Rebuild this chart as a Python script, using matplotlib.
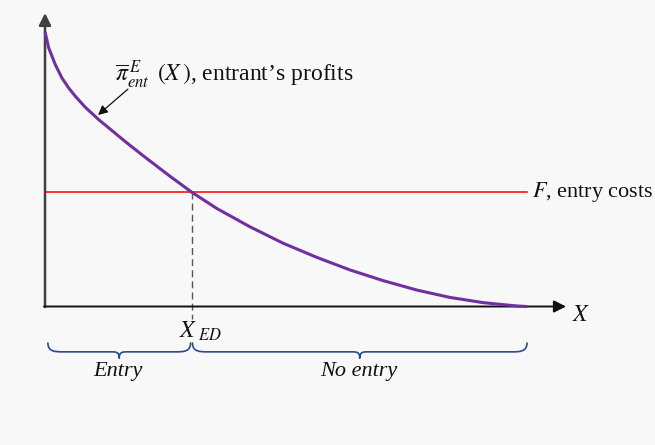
import matplotlib
matplotlib.use("Agg")
import matplotlib.pyplot as plt
from matplotlib.path import Path
from matplotlib.patches import PathPatch

# entrant's profit curve
market_size = [0, 0.077, 0.214, 0.353, 0.492, 0.629, 0.836, 1.114, 1.322, 1.666,
               2.012, 2.324, 2.593, 3.044, 3.562, 4.253, 4.944, 5.637, 6.328,
               7.019, 7.712, 8.402, 9.093, 9.786, 10.0]
profits = [10.0, 9.41, 8.80, 8.31, 7.95, 7.65, 7.25, 6.80, 6.50, 6.00,
           5.52, 5.10, 4.74, 4.16, 3.57, 2.90, 2.30, 1.79, 1.33,
           0.94, 0.60, 0.33, 0.14, 0.02, 0.0]

entry_cost = 4.17      # F
x_ed = 3.04            # X_ED
x_max = 10.0

regions = ["Entry", "No entry"]

plt.rcParams['font.family'] = 'serif'
plt.rcParams['font.serif'] = ['Liberation Serif', 'DejaVu Serif']
plt.rcParams['mathtext.fontset'] = 'stix'

BG = '#f8f8f8'
PURPLE = '#7030a0'
BRACE = '#2b4a8b'

fig = plt.figure(figsize=(6.55, 4.45), dpi=100, facecolor=BG)
ax = fig.add_axes([0, 0, 1, 1])
ax.set_facecolor(BG)
ax.set_xlim(-0.934, 12.656)
ax.set_ylim(-5.04, 11.154)
ax.axis('off')


def brace(x0, x1, y_top, y_flat, y_tip, w=0.31, t=0.17):
    xm = (x0 + x1) / 2
    verts = [
        (x0, y_top),
        (x0, y_flat), (x0 + w * 0.5, y_flat), (x0 + w, y_flat),
        (xm - t, y_flat),
        (xm - t * 0.4, y_flat), (xm, y_flat), (xm, y_tip),
        (xm, y_flat), (xm + t * 0.4, y_flat), (xm + t, y_flat),
        (x1 - w, y_flat),
        (x1 - w * 0.5, y_flat), (x1, y_flat), (x1, y_top),
    ]
    codes = [Path.MOVETO,
             Path.CURVE4, Path.CURVE4, Path.CURVE4,
             Path.LINETO,
             Path.CURVE4, Path.CURVE4, Path.CURVE4,
             Path.CURVE4, Path.CURVE4, Path.CURVE4,
             Path.LINETO,
             Path.CURVE4, Path.CURVE4, Path.CURVE4]
    ax.add_patch(PathPatch(Path(verts, codes), fill=False, edgecolor=BRACE,
                           lw=1.2, capstyle='round', joinstyle='round'))


# axes with arrow heads
ax.annotate('', xy=(0, 10.68), xytext=(0, -0.02),
            arrowprops=dict(arrowstyle='-|>', color='#404040', lw=1.8,
                            mutation_scale=18, shrinkA=0, shrinkB=0))
ax.annotate('', xy=(10.81, 0), xytext=(-0.02, 0),
            arrowprops=dict(arrowstyle='-|>', color='#111111', lw=1.4,
                            mutation_scale=18, shrinkA=0, shrinkB=0))

# entry costs
ax.plot([0, x_max], [entry_cost, entry_cost], color='#ff0000', lw=1.1, zorder=3)

# profits curve
ax.plot(market_size, profits, color=PURPLE, lw=2.2, solid_joinstyle='round',
        solid_capstyle='butt', zorder=4)

# X_ED drop line
ax.plot([x_ed, x_ed], [entry_cost, -0.45], color='#555555', lw=1.0,
        linestyle=(0, (5, 3)), zorder=2)

# labels
ax.text(1.45, 8.17, r'$\overline{\pi}^{\,E}_{ent}\ \,(X\,)$, entrant’s profits',
        fontsize=17, ha='left', va='baseline', color='#111111')
ax.annotate('', xy=(1.10, 6.97), xytext=(1.72, 7.91),
            arrowprops=dict(arrowstyle='-|>', color='#111111', lw=0.9,
                            mutation_scale=14, shrinkA=0, shrinkB=0))
ax.text(10.10, entry_cost, r'$F$, entry costs', fontsize=16,
        ha='left', va='center', color='#111111')
ax.text(10.93, -0.31, r'$X$', fontsize=17, ha='left', va='center', color='#111111')
ax.text(2.78, -1.15, r'$X_{\ ED}$', fontsize=17, ha='left', va='baseline', color='#111111')

# entry / no entry braces
brace(0.06, x_ed - 0.02, -1.33, -1.65, -1.88)
brace(x_ed + 0.02, x_max, -1.33, -1.65, -1.88)
ax.text(x_ed / 2, -2.35, regions[0], fontsize=16, style='italic',
        ha='center', va='center', color='#111111')
ax.text((x_ed + x_max) / 2, -2.35, regions[1], fontsize=16, style='italic',
        ha='center', va='center', color='#111111')

fig.savefig('out.png', dpi=100, facecolor=BG)
